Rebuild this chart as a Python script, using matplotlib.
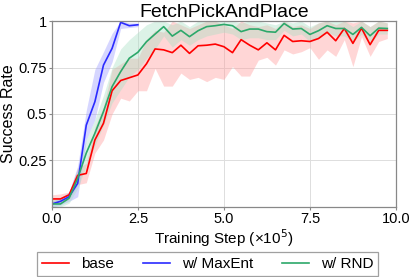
import matplotlib
matplotlib.use("Agg")
import matplotlib.pyplot as plt
import numpy as np

plt.rcParams['font.family'] = ['Liberation Sans', 'DejaVu Sans']

steps = [i * 0.25 for i in range(40)]

base_mean = [0.043, 0.043, 0.065, 0.17, 0.18, 0.36, 0.45, 0.625, 0.68, 0.695,
             0.71, 0.77, 0.85, 0.845, 0.83, 0.87, 0.826, 0.867, 0.87, 0.876,
             0.862, 0.83, 0.9, 0.87, 0.845, 0.883, 0.845, 0.923, 0.89, 0.894,
             0.89, 0.906, 0.94, 0.894, 0.96, 0.88, 0.962, 0.873, 0.95, 0.95]
base_low = [0.02, 0.02, 0.04, 0.12, 0.13, 0.29, 0.36, 0.5, 0.585, 0.57,
            0.625, 0.625, 0.745, 0.65, 0.65, 0.72, 0.686, 0.697, 0.674, 0.697,
            0.686, 0.755, 0.704, 0.704, 0.79, 0.805, 0.763, 0.845, 0.823, 0.835,
            0.857, 0.794, 0.845, 0.81, 0.9, 0.755, 0.916, 0.81, 0.89, 0.906]
base_high = [0.065, 0.07, 0.08, 0.21, 0.235, 0.43, 0.54, 0.74, 0.77, 0.8,
             0.8, 0.9, 0.95, 0.94, 1.0, 0.98, 0.96, 0.98, 1.0, 1.0,
             0.98, 0.96, 1.0, 0.98, 0.97, 0.98, 0.96, 1.0, 0.97, 0.98,
             0.96, 0.99, 1.0, 0.98, 1.0, 0.99, 1.0, 0.97, 1.0, 0.99]

maxent_steps = steps[:11]
maxent_mean = [0.016, 0.03, 0.055, 0.127, 0.44, 0.566, 0.763, 0.853, 0.993, 0.975, 0.98]
maxent_low = [0.0, 0.01, 0.03, 0.055, 0.36, 0.47, 0.67, 0.78, 0.96, 0.965, 0.97]
maxent_high = [0.03, 0.05, 0.08, 0.22, 0.52, 0.74, 0.835, 0.934, 1.0, 0.99, 0.99]

rnd_mean = [0.016, 0.016, 0.047, 0.154, 0.29, 0.396, 0.513, 0.647, 0.728, 0.8,
            0.832, 0.889, 0.93, 0.97, 0.919, 0.95, 0.916, 0.948, 0.97, 0.975,
            0.982, 0.975, 0.943, 0.957, 0.957, 0.943, 0.94, 0.987, 0.957, 0.96,
            0.928, 0.948, 0.975, 0.96, 0.96, 0.928, 0.966, 0.921, 0.962, 0.96]
rnd_low = [0.0, 0.0, 0.02, 0.1, 0.22, 0.33, 0.44, 0.56, 0.63, 0.7,
           0.74, 0.8, 0.85, 0.92, 0.86, 0.9, 0.87, 0.9, 0.92, 0.93,
           0.94, 0.93, 0.9, 0.91, 0.91, 0.9, 0.9, 0.95, 0.92, 0.93,
           0.89, 0.91, 0.94, 0.92, 0.92, 0.89, 0.93, 0.88, 0.93, 0.93]
rnd_high = [0.04, 0.04, 0.08, 0.2, 0.36, 0.47, 0.6, 0.75, 0.85, 0.9,
            0.94, 0.98, 1.0, 1.0, 0.98, 1.0, 0.97, 1.0, 1.0, 1.0,
            1.0, 1.0, 0.99, 1.0, 1.0, 0.99, 0.98, 1.0, 0.99, 1.0,
            0.97, 0.99, 1.0, 1.0, 1.0, 0.97, 1.0, 0.97, 1.0, 0.99]

series = [
    ("base", steps, base_mean, base_low, base_high, "#ff0000", "#ff9a9a"),
    ("w/ MaxEnt", maxent_steps, maxent_mean, maxent_low, maxent_high, "#2b2bff", "#9a9aff"),
    ("w/ RND", steps, rnd_mean, rnd_low, rnd_high, "#2ca86a", "#a8e0c4"),
]

fig = plt.figure(figsize=(4.15, 2.77), dpi=100)
ax = fig.add_axes([0.125, 0.253, 0.829, 0.671])

for name, xs, m, lo, hi, c, fc in series:
    ax.fill_between(xs, lo, hi, color=fc, alpha=0.4, linewidth=0)
for name, xs, m, lo, hi, c, fc in series:
    ax.plot(xs, m, color=c, lw=1.2, label=name)

ax.set_xlim(0, 10)
ax.set_ylim(0, 1)
ax.set_xticks([0, 2.5, 5, 7.5, 10])
ax.set_xticklabels(["0.0", "2.5", "5.0", "7.5", "10.0"])
ax.set_yticks([0.25, 0.5, 0.75, 1.0])
ax.set_yticklabels(["0.25", "0.5", "0.75", "1"])
ax.grid(True, color="#dddddd", lw=0.7)
ax.set_axisbelow(True)
for s in ax.spines.values():
    s.set_color("#888888")
    s.set_linewidth(0.9)
ax.tick_params(axis="both", labelsize=10.5, length=2, color="#888888", pad=1.5)
ax.set_title("FetchPickAndPlace", fontsize=14, pad=2)
ax.set_xlabel("Training Step (×10$^5$)", fontsize=11, labelpad=1)
ax.set_ylabel("Success Rate", fontsize=11.5, labelpad=2)

leg = fig.legend(loc="lower center", bbox_to_anchor=(0.5, 0.005), ncol=3,
                 fontsize=11, frameon=True, fancybox=False, columnspacing=1.9,
                 handlelength=1.8, handletextpad=0.75, borderpad=0.3,
                 borderaxespad=0.0)
leg.get_frame().set_edgecolor("#888888")
leg.get_frame().set_linewidth(0.9)

fig.savefig("out.png", dpi=100)
